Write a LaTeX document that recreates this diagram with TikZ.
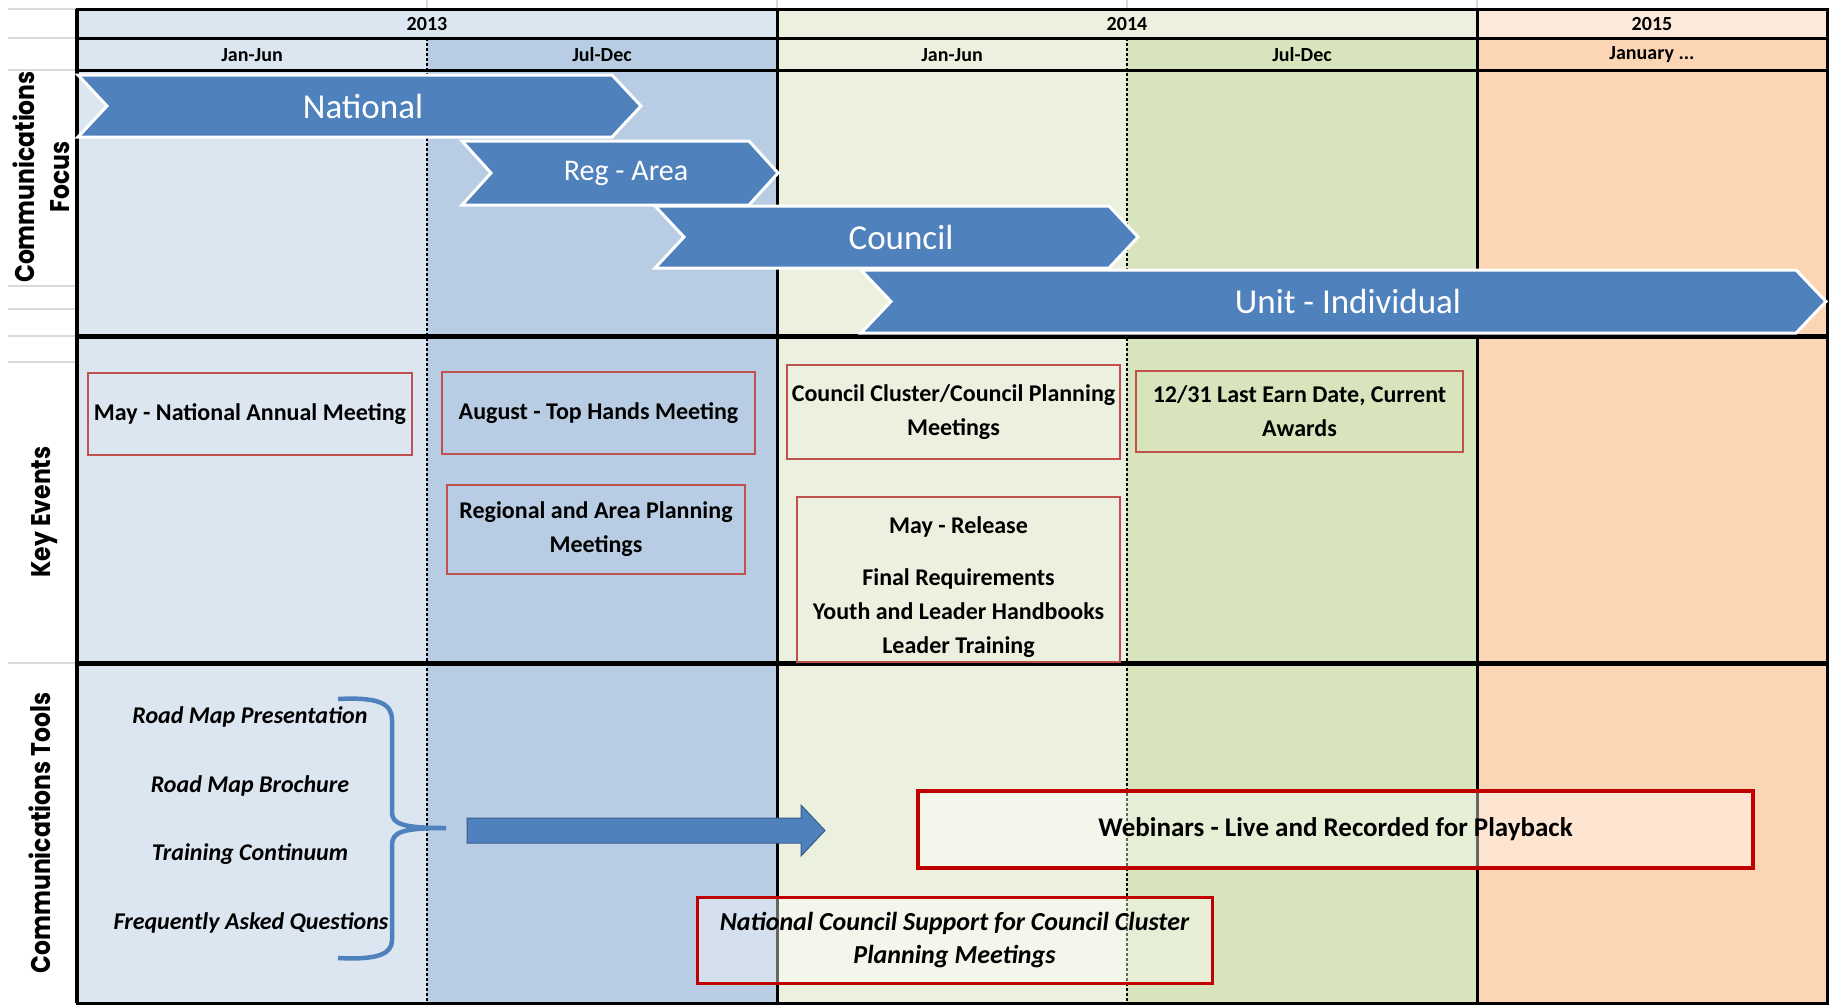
\documentclass[tikz,border=0pt]{standalone}
\usepackage{fontspec}
\setmainfont{Carlito}
\newfontfamily\gothic{Poppins}
\definecolor{bA}{RGB}{220,230,241}
\definecolor{bB}{RGB}{184,204,228}
\definecolor{gA}{RGB}{235,241,222}
\definecolor{gB}{RGB}{216,228,188}
\definecolor{oH}{RGB}{253,233,217}
\definecolor{oB}{RGB}{252,213,180}
\definecolor{chevblue}{RGB}{79,129,189}
\definecolor{chevdark}{RGB}{56,93,138}
\definecolor{evred}{RGB}{192,80,77}
\definecolor{toolred}{RGB}{192,0,0}
\definecolor{gridgray}{RGB}{217,217,217}
\newcommand{\sidetext}[1]{\scalebox{0.87}[1]{\begin{tabular}{@{}c@{}}#1\end{tabular}}}
\tikzset{
  hdr/.style={font=\fontsize{20}{24}\selectfont\bfseries, inner sep=0},
  chevshape/.style={fill=chevblue, draw=white, line width=3},
  chevtext/.style={text=white, font=\fontsize{35}{40}\selectfont, inner sep=0},
  evbox/.style={draw=evred, line width=2.5, inner sep=0, align=center, font=\fontsize{24}{34}\selectfont\bfseries},
  evtext/.style={inner sep=0, align=center, font=\fontsize{24}{34}\selectfont\bfseries},
  tooltext/.style={inner sep=0, font=\fontsize{24}{28}\selectfont\bfseries\itshape},
  toolbox/.style={draw=toolred, fill=white, fill opacity=0.4, text opacity=1, inner sep=0, align=center},
  sidelabel/.style={rotate=90, inner sep=0, font=\gothic\fontsize{27}{35}\selectfont\bfseries},
  frame/.style={line width=3, black},
  divider/.style={line width=5, black},
  halfline/.style={line width=1.2, black, dash pattern=on 3pt off 2pt},
  margin/.style={gridgray, line width=1.5}
}
\begin{document}
\begin{tikzpicture}[x=1pt,y=-1pt]
\useasboundingbox (0,0) rectangle (1833,1005);
\fill[white] (0,0) rectangle (1833,1005);
% spreadsheet grid lines in the margin
\foreach \yy in {9,38,70,286,309,336,362,663}
  \draw[margin] (8,\yy) -- (77,\yy);
\foreach \xx in {427,777,1127,1477}
  \draw[margin] (\xx,0) -- (\xx,9);
% body backgrounds
\fill[bA] (77,70) rectangle (427,1003);
\fill[bB] (427,70) rectangle (777,1003);
\fill[gA] (777,70) rectangle (1127,1003);
\fill[gB] (1127,70) rectangle (1477,1003);
\fill[oB] (1477,70) rectangle (1827,1003);
% header backgrounds
\fill[bA] (77,9) rectangle (777,38);
\fill[gA] (777,9) rectangle (1477,38);
\fill[oH] (1477,9) rectangle (1827,38);
\fill[bA] (77,38) rectangle (427,70);
\fill[bB] (427,38) rectangle (777,70);
\fill[gA] (777,38) rectangle (1127,70);
\fill[gB] (1127,38) rectangle (1477,70);
\fill[oB] (1477,38) rectangle (1827,70);
% header texts
\node[hdr] (y13) at (427,24) {2013};
\node[hdr] (y14) at (1127,24) {2014};
\node[hdr] (y15) at (1652,24) {2015};
\node[hdr] (h1) at (252,55) {Jan-Jun};
\node[hdr] (h2) at (602,55) {Jul-Dec};
\node[hdr] (h3) at (952,55) {Jan-Jun};
\node[hdr] (h4) at (1302,55) {Jul-Dec};
\node[hdr] (h5) at (1652,55) {January ...};
% dashed half-year lines
\draw[halfline] (427,38) -- (427,1003);
\draw[halfline] (1127,38) -- (1127,1003);
% frame lines
\draw[frame] (77,9) rectangle (1827,1003);
\draw[frame] (77,38) -- (1827,38);
\draw[frame] (77,70) -- (1827,70);
\draw[frame] (777,9) -- (777,1003);
\draw[frame] (1477,9) -- (1477,1003);
\draw[line width=4] (77,9) -- (77,1003);
\draw[divider] (77,336) -- (1827,336);
\draw[divider] (77,663) -- (1827,663);
% side labels
\node[sidelabel] (lfocus) at (45,177) {\sidetext{Communications\\Focus}};
\node[sidelabel] (lkey) at (43,512) {\sidetext{Key Events}};
\node[sidelabel] (ltools) at (43,833) {\sidetext{Communications Tools}};
% chevrons
\draw[chevshape] (78,75) -- (612,75) -- (641,106) -- (612,137) -- (78,137) -- (107,106) -- cycle;
\node[chevtext] (cnat) at (363,106) {National};
\draw[chevshape] (462,141) -- (749,141) -- (778,173) -- (749,205) -- (462,205) -- (491,173) -- cycle;
\node[chevtext, font=\fontsize{30}{34}\selectfont] (creg) at (626,173) {Reg - Area};
\draw[chevshape] (655,206) -- (1109,206) -- (1138,237) -- (1109,268) -- (655,268) -- (684,237) -- cycle;
\node[chevtext] (ccou) at (901,237) {Council};
\draw[chevshape] (861,270) -- (1796,270) -- (1826,301.5) -- (1796,333) -- (861,333) -- (891,301.5) -- cycle;
\node[chevtext] (cunit) at (1348,301.5) {Unit - Individual};
% key events
\node[evbox, minimum width=324, minimum height=82] (e1) at (250,414) {May - National Annual Meeting};
\node[evbox, minimum width=313, minimum height=82] (e2) at (598.5,413) {August - Top Hands Meeting};
\node[evbox, minimum width=298, minimum height=89] (e3) at (596,529.5) {Regional and Area Planning\\Meetings};
\node[evbox, minimum width=333, minimum height=94] (e4) at (953.5,412) {Council Cluster/Council Planning\\Meetings};
\node[evbox, minimum width=327, minimum height=81] (e5) at (1299.5,411.5) {12/31 Last Earn Date, Current\\Awards};
\node[evbox, minimum width=323, minimum height=165] (e6) at (958.5,579.5) {};
\node[evtext] (e6t) at (958.5,587) {May - Release\\[18pt]Final Requirements\\Youth and Leader Handbooks\\Leader Training};
% communications tools
\node[tooltext] (t1) at (250,717) {Road Map Presentation};
\node[tooltext] (t2) at (250,786) {Road Map Brochure};
\node[tooltext] (t3) at (250,854) {Training Continuum};
\node[tooltext] (t4) at (251,923) {Frequently Asked Questions};
\coordinate (bracetip) at (446,828);
\draw[chevblue, line width=4.5] (338,699) .. controls (378,697) and (392,703) .. (392,720) -- (392,812) .. controls (392,824) and (402,828) .. (bracetip)
  .. controls (402,828) and (392,832) .. (392,845) -- (392,940) .. controls (392,954) and (378,960) .. (338,958);
\coordinate (arrowtip) at (825,830.5);
\draw[chevdark, fill=chevblue, line width=1] (467,818) -- (801,818) -- (801,805) -- (arrowtip) -- (801,856) -- (801,843) -- (467,843) -- cycle;
\node[toolbox, line width=4, minimum width=835, minimum height=77, font=\fontsize{27}{32}\selectfont\bfseries] (web) at (1335.5,829.5) {Webinars - Live and Recorded for Playback};
\node[toolbox, line width=3, minimum width=515, minimum height=86, font=\fontsize{26}{33}\selectfont\bfseries\itshape] (ncs) at (954.5,940) {National Council Support for Council Cluster\\Planning Meetings};
\end{tikzpicture}
\end{document}
